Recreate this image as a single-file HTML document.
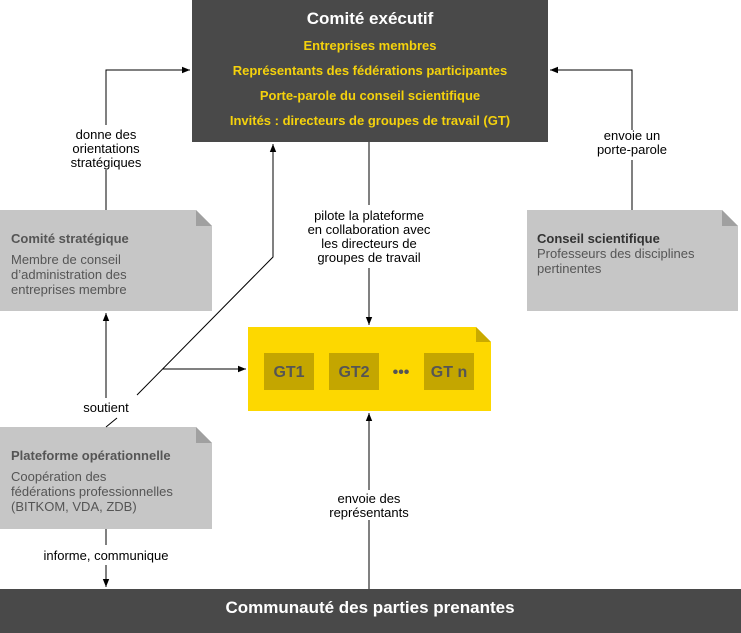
<!DOCTYPE html>
<html><head><meta charset="utf-8"><style>
body{margin:0;width:741px;height:633px;background:#fff;overflow:hidden;font-family:"Liberation Sans",Arial,sans-serif}
svg{position:absolute;left:0;top:0}
</style></head><body>
<svg width="741" height="633" viewBox="0 0 741 633" font-family="Liberation Sans, Arial, sans-serif">
<defs><marker id="a" viewBox="0 0 10 10" refX="10" refY="5" markerWidth="8" markerHeight="8" orient="auto"><path d="M0,1 L10,5 L0,9z" fill="#000"/></marker></defs>
<rect x="192" y="0" width="356" height="142" fill="#494949"/>
<text x="370" y="24" fill="#fff" font-size="17" font-weight="bold" text-anchor="middle">Comité exécutif</text>
<g fill="#f5d20c" font-size="13" font-weight="bold" text-anchor="middle">
<text x="370" y="50">Entreprises membres</text>
<text x="370" y="75">Représentants des fédérations participantes</text>
<text x="370" y="100">Porte-parole du conseil scientifique</text>
<text x="370" y="125">Invités : directeurs de groupes de travail (GT)</text></g>
<rect x="0" y="589" width="741" height="44" fill="#494949"/>
<text x="370" y="613" fill="#fff" font-size="17" font-weight="bold" text-anchor="middle">Communauté des parties prenantes</text>
<g fill="#c6c6c6">
<path d="M0,210 H196 L212,226 V311 H0z"/>
<path d="M527,210 H722 L738,226 V311 H527z"/>
<path d="M0,427 H196 L212,443 V529 H0z"/></g>
<g fill="#a0a0a0"><path d="M196,210 L212,226 H196z"/><path d="M722,210 L738,226 H722z"/><path d="M196,427 L212,443 H196z"/></g>
<path d="M248,327 H476 L491,342 V411 H248z" fill="#fdd800"/>
<path d="M476,327 L491,342 H476z" fill="#c9aa00"/>
<g fill="#c4a600"><rect x="264" y="353" width="50" height="37"/><rect x="329" y="353" width="50" height="37"/><rect x="424" y="353" width="50" height="37"/></g>
<g fill="#555" font-size="16" font-weight="bold" text-anchor="middle"><text x="289" y="377">GT1</text><text x="354" y="377">GT2</text><text x="449" y="377">GT n</text><text x="401" y="377">•••</text></g>
<g font-size="13" fill="#555"><text x="11" y="243" font-weight="bold">Comité stratégique</text>
<text x="11" y="264">Membre de conseil</text><text x="11" y="279">d’administration des</text><text x="11" y="294">entreprises membre</text>
<text x="537" y="243" font-weight="bold" fill="#333">Conseil scientifique</text>
<text x="537" y="258">Professeurs des disciplines</text><text x="537" y="273">pertinentes</text>
<text x="11" y="460" font-weight="bold">Plateforme opérationnelle</text>
<text x="11" y="481">Coopération des</text><text x="11" y="496">fédérations professionnelles</text><text x="11" y="511">(BITKOM, VDA, ZDB)</text></g>
<g stroke="#000" stroke-width="1" fill="none">
<path d="M106,125 V70 H190" marker-end="url(#a)"/><path d="M106,170 V210"/>
<path d="M632,210 V160"/><path d="M632,130 V70 H550" marker-end="url(#a)"/>
<path d="M369,142 V205"/><path d="M369,268 V325" marker-end="url(#a)"/>
<path d="M137,395 L273,257 V144" marker-end="url(#a)"/>
<path d="M117,418 L106,427"/>
<path d="M106,398 V313" marker-end="url(#a)"/>
<path d="M163,369 H246" marker-end="url(#a)"/>
<path d="M106,529 V545"/><path d="M106,565 V587" marker-end="url(#a)"/>
<path d="M369,589 V520"/><path d="M369,490 V413" marker-end="url(#a)"/>
</g>
<g font-size="13" fill="#000" text-anchor="middle">
<text x="106" y="139">donne des</text><text x="106" y="153">orientations</text><text x="106" y="167">stratégiques</text>
<text x="632" y="140">envoie un</text><text x="632" y="154">porte-parole</text>
<text x="369" y="220">pilote la plateforme</text><text x="369" y="234">en collaboration avec</text><text x="369" y="248">les directeurs de</text><text x="369" y="262">groupes de travail</text>
<text x="106" y="412">soutient</text>
<text x="106" y="560">informe, communique</text>
<text x="369" y="503">envoie des</text><text x="369" y="517">représentants</text></g>
</svg>
</body></html>
